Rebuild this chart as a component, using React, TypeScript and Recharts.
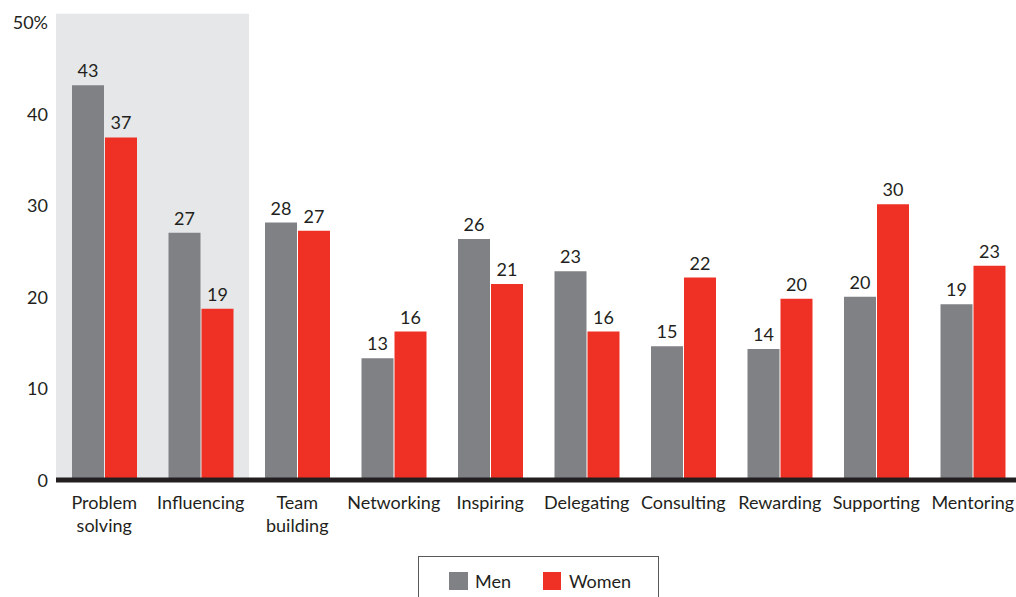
import { BarChart, Bar, XAxis, YAxis, LabelList, ReferenceArea, Legend } from 'recharts';

const categories = ['Problem solving', 'Influencing', 'Team building', 'Networking', 'Inspiring', 'Delegating', 'Consulting', 'Rewarding', 'Supporting', 'Mentoring'];
// values; labels show them rounded
const men = [43.1, 27.0, 28.1, 13.3, 26.3, 22.8, 14.6, 14.3, 20.0, 19.2];
const women = [37.4, 18.7, 27.2, 16.2, 21.4, 16.2, 22.1, 19.8, 30.1, 23.4];
const yTicks = [0, 10, 20, 30, 40, 50];

// two-line labels where the original wraps
const tickLines: Record<string, string[]> = {
  'Problem solving': ['Problem', 'solving'],
  'Team building': ['Team', 'building'],
};

const data = categories.map((name, i) => ({ name, men: men[i], women: women[i] }));

const FONT = 'Lato, "Open Sans", sans-serif';
const TEXT = '#231f20';
const GRAY = '#808184';
const RED = '#ee3124';

const XTick = (props: any) => {
  const { x, y, payload } = props;
  const lines = tickLines[payload.value] || [payload.value];
  return (
    <text x={x} y={y + 21} textAnchor="middle" fill={TEXT} fontSize={18} fontFamily={FONT}>
      {lines.map((l, i) => (
        <tspan key={i} x={x} dy={i === 0 ? 0 : 23}>{l}</tspan>
      ))}
    </text>
  );
};

const YTick = (props: any) => {
  const { x, y, payload } = props;
  return (
    <text x={x} y={y + 7} textAnchor="end" fill={TEXT} fontSize={18} fontFamily={FONT}>
      {payload.value === 50 ? '50%' : payload.value}
    </text>
  );
};

const LegendBox = () => (
  <div style={{ position: 'relative', height: 41, overflow: 'hidden' }}>
    <div
      style={{
        position: 'absolute',
        left: 418,
        top: 0,
        width: 241,
        height: 60,
        border: '1px solid #58595b',
        boxSizing: 'border-box',
        display: 'flex',
        alignItems: 'flex-start',
        paddingTop: 13,
        paddingLeft: 30,
        fontFamily: FONT,
        fontSize: 18,
        color: TEXT,
      }}
    >
      <span style={{ width: 19, height: 18, background: GRAY, display: 'inline-block', marginTop: 2 }} />
      <span style={{ marginLeft: 7 }}>Men</span>
      <span style={{ width: 18, height: 18, background: RED, display: 'inline-block', marginLeft: 32, marginTop: 2 }} />
      <span style={{ marginLeft: 8 }}>Women</span>
    </div>
  </div>
);

const round = (v: any) => Math.round(Number(v));

export default function App() {
  return (
    <div style={{ position: 'absolute', left: 0, top: 0, width: 1016, height: 597, overflow: 'hidden', background: '#fff' }}>
      <BarChart
        width={1021}
        height={597}
        data={data}
        margin={{ top: 22, right: 0, left: 0, bottom: 0 }}
        barGap={1}
        barSize={32}
      >
        <ReferenceArea
          x1="Problem solving"
          x2="Influencing"
          y1={0}
          y2={50.9}
          fill="#e6e7e8"
          fillOpacity={1}
          ifOverflow="visible"
        />
        <XAxis
          dataKey="name"
          height={76}
          interval={0}
          tickLine={false}
          axisLine={{ stroke: TEXT, strokeWidth: 5 }}
          tick={<XTick />}
        />
        <YAxis
          width={56}
          domain={[0, 50]}
          ticks={yTicks}
          tickLine={false}
          axisLine={false}
          tick={<YTick />}
        />
        <Legend verticalAlign="bottom" height={41} content={<LegendBox />} />
        <Bar dataKey="men" name="Men" fill={GRAY} isAnimationActive={false}>
          <LabelList dataKey="men" position="top" offset={8} fill={TEXT} fontSize={18} fontFamily={FONT} formatter={round} />
        </Bar>
        <Bar dataKey="women" name="Women" fill={RED} isAnimationActive={false}>
          <LabelList dataKey="women" position="top" offset={8} fill={TEXT} fontSize={18} fontFamily={FONT} formatter={round} />
        </Bar>
      </BarChart>
    </div>
  );
}
